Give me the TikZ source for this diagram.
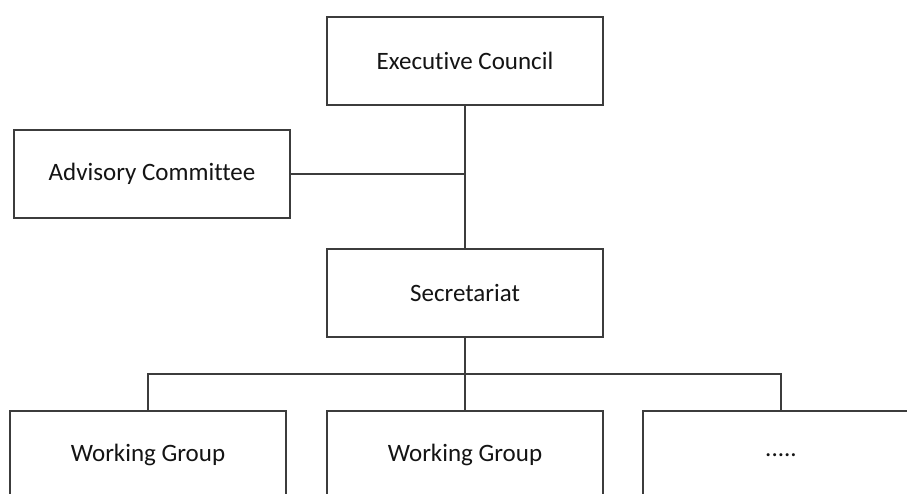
\documentclass[tikz,border=0pt]{standalone}
\usepackage{fontspec}
\setmainfont[Ligatures={NoCommon}]{Carlito}
\definecolor{linegray}{HTML}{3C3C3C}
\definecolor{textgray}{HTML}{141414}
\tikzset{
  orgbox/.style={draw=linegray, line width=1.3pt, fill=white, minimum width=276pt, minimum height=88pt, inner sep=0pt, font=\fontsize{25}{29}\selectfont, text=textgray},
  link/.style={draw=linegray, line width=1.3pt}
}
\begin{document}
\begin{tikzpicture}[x=1pt,y=1pt]
\useasboundingbox (0,0) rectangle (907,-494);
\fill[white] (0,0) rectangle (907,-494);
\clip (0,0) rectangle (907,-494);
\node[orgbox] (ec) at (465,-61) {Executive Council};
\node[orgbox] (ac) at (152,-174) {Advisory Committee};
\node[orgbox] (sec) at (465,-293) {Secretariat};
\node[orgbox] (wg1) at (148,-455) {Working Group};
\node[orgbox] (wg2) at (465,-455) {Working Group};
\node[orgbox] (wg3) at (781,-455) {.....};
\coordinate (bus) at (465,-374);
\draw[link] (ec.south) -- (sec.north);
\draw[link] (ac.east) -- (ac.east -| ec.south);
\draw[link] (sec.south) -- (wg2.north);
\draw[link] (wg1.north) |- (bus) -| (wg3.north);
\end{tikzpicture}
\end{document}
